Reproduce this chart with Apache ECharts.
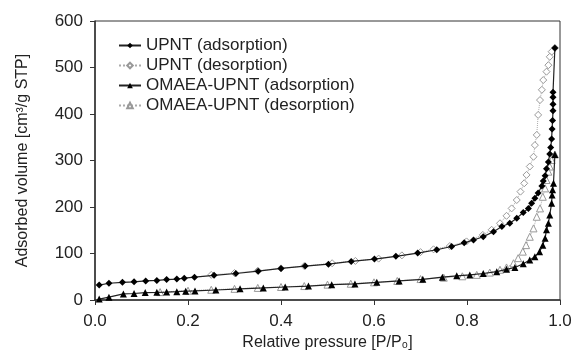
<!DOCTYPE html>
<html>
<head>
<meta charset="utf-8">
<script src="https://cdn.jsdelivr.net/npm/echarts@6/dist/echarts.min.js"></script>
<style>
  html, body { margin: 0; padding: 0; background: #fff; }
  #chart { width: 575px; height: 363px; }
</style>
</head>
<body>
<div id="chart"></div>
<script>
// legend names
var seriesNames = ['UPNT (adsorption)', 'UPNT (desorption)', 'OMAEA-UPNT (adsorption)', 'OMAEA-UPNT (desorption)']

// UPNT adsorption
var upntAdsP = [0.009, 0.03, 0.059, 0.084, 0.109, 0.133, 0.154, 0.176, 0.192, 0.214, 0.256, 0.303, 0.351, 0.400, 0.452, 0.502, 0.551, 0.601, 0.647, 0.694, 0.735, 0.767, 0.794, 0.814, 0.835, 0.857, 0.875, 0.892, 0.907, 0.921, 0.932, 0.939, 0.946, 0.953, 0.961, 0.964, 0.968, 0.971, 0.975, 0.978, 0.980, 0.982, 0.983, 0.984, 0.985, 0.985, 0.985, 0.985, 0.989]
var upntAdsV = [32, 36, 38, 39, 41, 42, 44, 45, 47, 49, 53, 57, 62, 68, 73, 77, 83, 88, 94, 101, 108, 115, 123, 129, 136, 147, 158, 165, 176, 188, 197, 208, 219, 230, 245, 256, 267, 282, 297, 314, 328, 346, 368, 386, 407, 421, 436, 447, 542]

// UPNT desorption
var upntDesP = [0.989, 0.982, 0.978, 0.975, 0.971, 0.964, 0.961, 0.957, 0.953, 0.950, 0.946, 0.943, 0.935, 0.928, 0.923, 0.915, 0.907, 0.896, 0.885, 0.871, 0.853, 0.834, 0.799, 0.763, 0.728, 0.70, 0.66, 0.61, 0.56, 0.51, 0.45, 0.40, 0.35, 0.30, 0.25]
var upntDesV = [542, 534, 523, 505, 491, 473, 452, 430, 398, 355, 333, 308, 287, 269, 251, 233, 215, 197, 181, 165, 151, 140, 126, 116, 109, 103, 96, 89, 84, 79, 73, 68, 63, 58, 54]

// OMAEA-UPNT adsorption
var omaeaAdsP = [0.009, 0.03, 0.061, 0.084, 0.108, 0.133, 0.154, 0.176, 0.195, 0.215, 0.26, 0.312, 0.362, 0.409, 0.459, 0.509, 0.559, 0.606, 0.654, 0.705, 0.747, 0.778, 0.806, 0.835, 0.864, 0.885, 0.903, 0.921, 0.935, 0.946, 0.956, 0.963, 0.968, 0.971, 0.975, 0.978, 0.982, 0.983, 0.984, 0.986, 0.989]
var omaeaAdsV = [2, 6, 13, 14, 16, 16.5, 17, 18, 19, 19.5, 21.5, 24, 26, 28, 30, 33, 34.5, 38, 41, 44.5, 49, 52, 54, 57, 61, 66, 70, 78, 86, 93, 104, 118, 133, 151, 165, 183, 208, 226, 237, 251, 313]

// OMAEA-UPNT desorption
var omaeaDesP = [0.989, 0.982, 0.978, 0.975, 0.971, 0.968, 0.963, 0.957, 0.950, 0.943, 0.935, 0.927, 0.920, 0.910, 0.900, 0.885, 0.871, 0.849, 0.821, 0.79, 0.75, 0.70, 0.65, 0.60, 0.55, 0.50, 0.45, 0.40, 0.35, 0.30, 0.25, 0.20, 0.14]
var omaeaDesV = [313, 301, 287, 276, 258, 240, 222, 197, 179, 154, 136, 118, 104, 90, 79, 70, 65, 59, 54, 51, 48, 45, 41, 38, 35, 33, 30, 28, 26, 24, 22, 20, 17]

// axis ticks
var xTicks = [0, 0.2, 0.4, 0.6, 0.8, 1.0]
var yTicks = [0, 100, 200, 300, 400, 500, 600]

function zip(p, v) {
    return p.map(function (x, i) { return [x, v[i]] })
}

var font = 'Liberation Sans, Arial, sans-serif'
var chart = echarts.init(document.getElementById('chart'))

// adsorption: black line + filled marker, drawn on top
function adsSeries(name, p, v, symbol) {
    return {
        name: name,
        type: 'line',
        z: 4,
        data: zip(p, v),
        symbol: symbol,
        symbolSize: 7,
        showAllSymbol: true,
        lineStyle: { color: '#222', width: 1.2 },
        itemStyle: { color: '#000' },
        emphasis: { disabled: true }
    }
}
// desorption: grey dotted line + hollow marker
function desSeries(name, p, v, symbol) {
    return {
        name: name,
        type: 'line',
        z: 3,
        data: zip(p, v),
        symbol: symbol,
        symbolSize: 7,
        showAllSymbol: true,
        lineStyle: { color: '#aaa', width: 1, type: 'dotted' },
        itemStyle: { color: '#fff', borderColor: '#999', borderWidth: 1 },
        emphasis: { disabled: true }
    }
}

chart.setOption({
    animation: false,
    backgroundColor: '#fff',
    grid: {
        left: 95, right: 15, top: 21, bottom: 63,
        show: true, borderColor: '#333', borderWidth: 1
    },
    legend: {
        data: seriesNames,
        orient: 'vertical',
        left: 113, top: 32,
        itemWidth: 22, itemHeight: 7, itemGap: 3,
        textStyle: { fontFamily: font, fontSize: 17, color: '#222' }
    },
    xAxis: {
        type: 'value',
        min: xTicks[0], max: xTicks[xTicks.length - 1], interval: 0.2,
        name: 'Relative pressure [P/P\u2080]',
        nameLocation: 'middle', nameGap: 35,
        nameTextStyle: { fontFamily: font, fontSize: 16, color: '#222' },
        axisLine: { lineStyle: { color: '#333', width: 1.5 } },
        axisTick: { length: 5, lineStyle: { color: '#333' } },
        axisLabel: { fontFamily: font, fontSize: 17, color: '#222', margin: 13,
            formatter: function (v) { return v.toFixed(1) } },
        splitLine: { show: false }
    },
    yAxis: {
        type: 'value',
        min: yTicks[0], max: yTicks[yTicks.length - 1], interval: 100,
        name: 'Adsorbed volume [cm\u00b3/g STP]',
        nameLocation: 'middle', nameGap: 64,
        nameTextStyle: { fontFamily: font, fontSize: 16, color: '#222' },
        axisLine: { lineStyle: { color: '#333', width: 1.5 } },
        axisTick: { length: 5, lineStyle: { color: '#333' } },
        axisLabel: { fontFamily: font, fontSize: 17, color: '#222', margin: 12 },
        splitLine: { show: false }
    },
    series: [
        adsSeries(seriesNames[0], upntAdsP, upntAdsV, 'diamond'),
        desSeries(seriesNames[1], upntDesP, upntDesV, 'diamond'),
        adsSeries(seriesNames[2], omaeaAdsP, omaeaAdsV, 'triangle'),
        desSeries(seriesNames[3], omaeaDesP, omaeaDesV, 'triangle')
    ]
})
</script>
</body>
</html>
